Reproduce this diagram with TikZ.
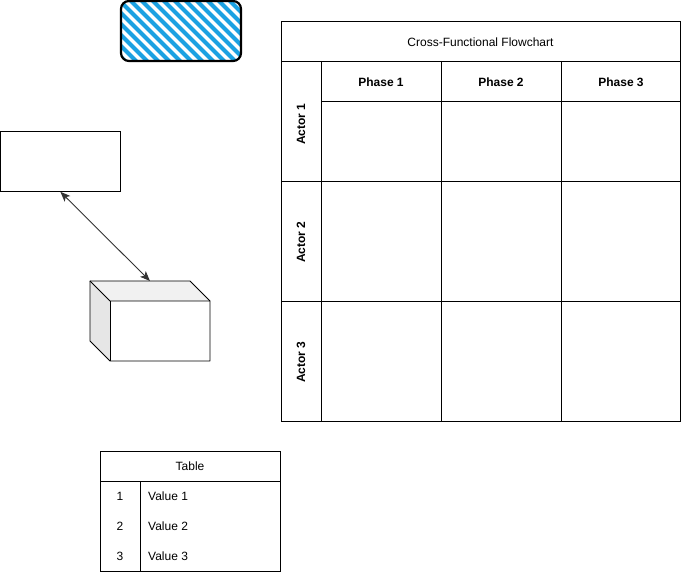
\documentclass[tikz,border=0pt]{standalone}
\usepackage{fontspec}
\setmainfont{Liberation Sans}
\usetikzlibrary{arrows.meta}
\definecolor{hatchblue}{HTML}{1BA1E2}
\definecolor{topface}{HTML}{F1F1F1}
\definecolor{sideface}{HTML}{E6E6E6}
\definecolor{arrowgray}{HTML}{333333}
\begin{document}
\begin{tikzpicture}[x=1pt,y=-1pt,
  cell/.style={draw=black,line width=0.8pt,fill=white},
  txt/.style={font=\fontsize{12}{14}\selectfont,inner sep=0pt},
  btxt/.style={font=\fontsize{12}{14}\selectfont\bfseries,inner sep=0pt},
  plain/.style={draw=black,line width=0.8pt}]
\useasboundingbox (0,0) rectangle (681,572);
% hatched rounded rectangle
\begin{scope}
  \clip[rounded corners=8pt] (121,1) rectangle (241,61);
  \foreach \i in {0,...,17}{
    \draw[hatchblue,line width=4pt,line cap=round] ({60+\i*11},-4) -- ({60+\i*11+70},66);
  }
\end{scope}
\node[draw=black,line width=2.2pt,rounded corners=8pt,minimum width=120pt,minimum height=60pt,inner sep=0pt] (hatch) at (181,31) {};
% plain rectangle
\node[plain,minimum width=120pt,minimum height=60pt,inner sep=0pt,anchor=north west] (rect) at (0,131) {};
% cube
\fill[topface] (90,281) -- (190,281) -- (210,301) -- (110,301) -- cycle;
\fill[sideface] (90,281) -- (110,301) -- (110,361) -- (90,341) -- cycle;
\draw[plain,line join=round] (90,281) -- (190,281) -- (210,301) -- (210,361) -- (110,361) -- (90,341) -- cycle;
\draw[plain] (90,281) -- (110,301) -- (210,301);
\draw[plain] (110,301) -- (110,361);
\coordinate (cubetop) at (150,281);
\draw[arrowgray,line width=0.9pt,{Stealth[length=10pt,width=8pt,inset=2.5pt]}-{Stealth[length=10pt,width=8pt,inset=2.5pt]}] (rect.south) -- (cubetop);
% table
\node[cell,minimum width=180pt,minimum height=120pt,inner sep=0pt,anchor=north west] (table) at (100,451) {};
\draw[plain] (100,481) -- (280,481);
\draw[plain] (140,481) -- (140,571);
\node[txt] (tabh) at (190,466) {Table};
\node[txt] (n1) at (120,496) {1};
\node[txt] (n2) at (120,526) {2};
\node[txt] (n3) at (120,556) {3};
\node[txt,anchor=west] (v1) at (148,496) {Value 1};
\node[txt,anchor=west] (v2) at (148,526) {Value 2};
\node[txt,anchor=west] (v3) at (148,556) {Value 3};
% cross-functional flowchart
\node[cell,minimum width=399pt,minimum height=400pt,inner sep=0pt,anchor=north west] (cff) at (281,21) {};
\draw[plain] (281,61) -- (680,61);
\draw[plain] (321,61) -- (321,421);
\draw[plain] (321,101) -- (680,101);
\draw[plain] (281,181) -- (680,181);
\draw[plain] (281,301) -- (680,301);
\draw[plain] (441,61) -- (441,421);
\draw[plain] (561,61) -- (561,421);
\node[txt] (title) at (480.5,42) {Cross-Functional Flowchart};
\node[btxt] (p1) at (381,82) {Phase 1};
\node[btxt] (p2) at (501,82) {Phase 2};
\node[btxt] (p3) at (621,82) {Phase 3};
\node[btxt,rotate=90] (a1) at (301,124) {Actor 1};
\node[btxt,rotate=90] (a2) at (301,242) {Actor 2};
\node[btxt,rotate=90] (a3) at (301,362) {Actor 3};
\end{tikzpicture}
\end{document}
